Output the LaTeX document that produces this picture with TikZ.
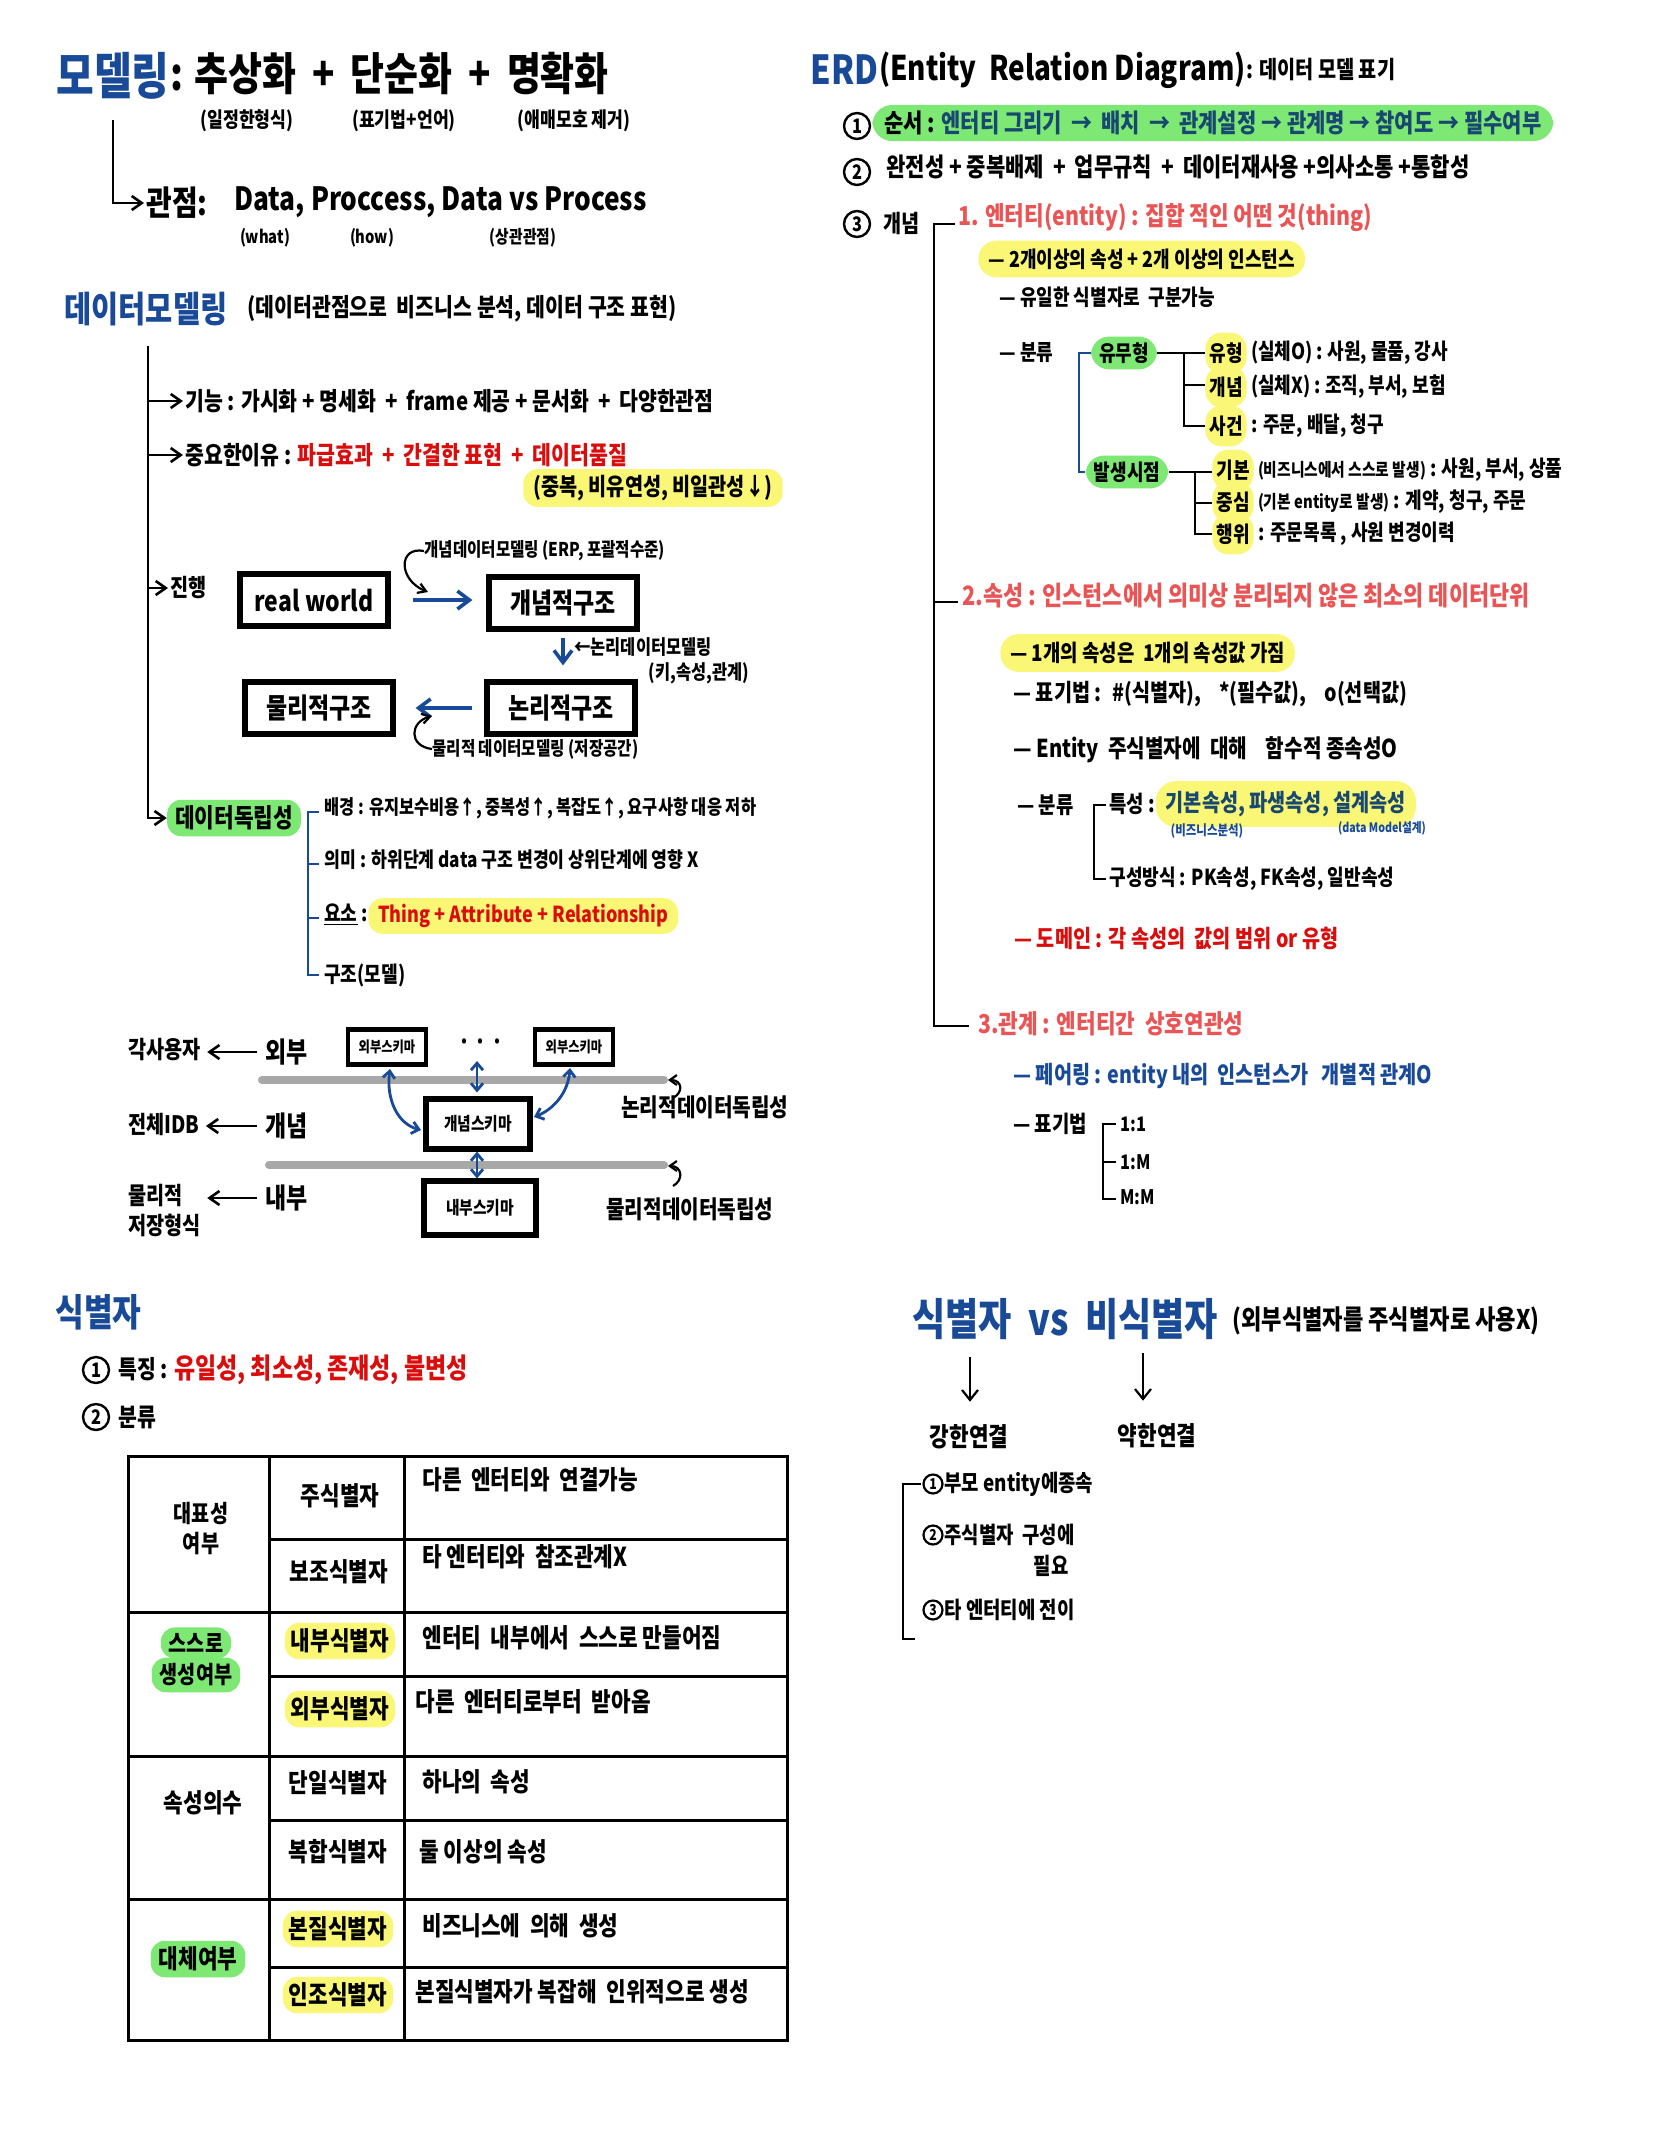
\documentclass[tikz,border=0pt]{standalone}
\usepackage{fontspec}
\setmainfont{Noto Sans CJK KR}[FakeStretch=0.82]
\usetikzlibrary{arrows.meta}
\definecolor{hblue}{RGB}{24,74,152}
\definecolor{salmon}{RGB}{234,84,84}
\definecolor{hred}{RGB}{218,12,12}
\definecolor{hlyel}{RGB}{250,247,118}
\definecolor{hlgrn}{RGB}{126,232,116}
\definecolor{dteal}{RGB}{24,72,112}
\definecolor{lgray}{RGB}{168,168,168}
\newcommand\fsz[1]{\fontsize{#1}{\fpeval{1.25*#1}}\selectfont\bfseries}
\begin{document}
\begin{tikzpicture}[x=0.5pt,y=-0.5pt,
  txt/.style={anchor=west, inner sep=0pt},
  ln/.style={line width=1.3pt, black},
  arr/.style={ln, -{Straight Barb[length=5pt,width=7pt]}},
  bln/.style={line width=1.4pt, hblue},
  barr/.style={line width=1.8pt, hblue, -{Straight Barb[length=6pt,width=9pt]}},
  bdarr/.style={line width=1.4pt, hblue, {Straight Barb[length=3.5pt,width=6pt]}-{Straight Barb[length=3.5pt,width=6pt]}},
  bx/.style={draw, line width=2.6pt, minimum width=74pt, minimum height=26pt, inner sep=2pt, font=\fsz{14}},
  sbx/.style={draw, line width=2.2pt, inner sep=2pt},
  hly/.style={fill=hlyel, rounded corners=7pt, inner xsep=5pt, inner ysep=3pt},
  hlg/.style={fill=hlgrn, rounded corners=7pt, inner xsep=4pt, inner ysep=3pt},
  circ/.style={draw, circle, line width=1.2pt, inner sep=0pt, minimum size=13pt, font=\fsz{10}},
  circs/.style={draw, circle, line width=1.1pt, inner sep=0pt, minimum size=9.5pt, font=\fsz{7.5}},
  gl/.style={line width=4pt, lgray, line cap=round},
  tbl/.style={line width=1.5pt}]
\fill[white] (0,0) rectangle (1668,2154);
\useasboundingbox (0,0) rectangle (1668,2154);

% ---------------- header: modeling
\node[txt, font=\fsz{25}, text=hblue] (model) at (56,76) {모델링};
\node[txt, font=\fsz{22.5}] (mdef) at (170,74) {: 추상화 \,+\, 단순화 \,+\, 명확화};
\node[font=\fsz{10.5}] (n1) at (247,121) {(일정한형식)};
\node[font=\fsz{10.5}] (n2) at (404,121) {(표기법+언어)};
\node[font=\fsz{10.5}] (n3) at (574,121) {(애매모호 제거)};
\node[txt, font=\fsz{17}] (gwan) at (146,203) {관점:};
\node[txt, font=\fsz{16}] (dp) at (234,202) {Data, Proccess, Data vs Process};
\node[font=\fsz{9}] (w1) at (265,238) {(what)};
\node[font=\fsz{9}] (w2) at (372,238) {(how)};
\node[font=\fsz{9}] (w3) at (523,238) {(상관관점)};
\draw[arr, shorten <=10pt, shorten >=1pt] (model.south) |- (gwan.west);

% ---------------- data modeling
\node[txt, font=\fsz{18}, text=hblue] (dm) at (64,309) {데이터모델링};
\node[txt, font=\fsz{12.5}] (dmd) at (247,309) {(데이터관점으로 \ 비즈니스 분석, 데이터 구조 표현)};
\coordinate (v0) at (148,346);
\coordinate (v1) at (148,818);
\coordinate (b1) at (148,401);
\coordinate (b2) at (148,455);
\coordinate (b3) at (148,588);
\node[txt, font=\fsz{12.5}] (func) at (185,401) {기능 : 가시화 + 명세화 \,+\, frame 제공 + 문서화 \,+\, 다양한관점};
\node[txt, font=\fsz{12.5}] (imp) at (185,455) {중요한이유 : \textcolor{hred}{파급효과 \,+\, 간결한 표현 \,+\, 데이터품질}};
\node[hly, font=\fsz{12}] (impn) at (653,488) {(중복, 비유연성, 비일관성↓)};
\node[txt, font=\fsz{12}] (prog) at (170,588) {진행};
\node[hlg, font=\fsz{13}] (indep) at (234,818) {데이터독립성};
\draw[arr] (v0) -- (v1) -- (indep.west);
\draw[arr, shorten >=1pt] (b1) -- (func.west);
\draw[arr, shorten >=1pt] (b2) -- (imp.west);
\draw[arr, shorten >=1pt] (b3) -- (prog.west);

% progress boxes
\node[bx] (rw) at (314,600) {real world};
\node[bx] (cs) at (563,603) {개념적구조};
\node[bx] (ls) at (561,708) {논리적구조};
\node[bx] (ps) at (319,708) {물리적구조};
\draw[barr, shorten <=11pt, shorten >=7pt] (rw.east) -- (rw.east -| cs.west);
\draw[barr, shorten <=3pt, shorten >=7pt] (cs.south) -- (cs.south |- ls.north);
\draw[barr, shorten <=6pt, shorten >=10pt] (ls.west) -- (ls.west -| ps.east);
\node[txt, font=\fsz{9.5}] (a1) at (424,551) {개념데이터모델링 (ERP, 포괄적수준)};
\coordinate (a1e) at (428,592);
\draw[line width=1.1pt, -{Straight Barb[length=4pt,width=5pt]}] (a1.west) .. controls (398,546) and (398,580) .. (a1e);
\node[txt, font=\fsz{10}] (a2) at (574,647) {←논리데이터모델링};
\node[font=\fsz{10}] (a3) at (699,673) {(키,속성,관계)};
\node[txt, font=\fsz{9.5}] (a4) at (432,749) {물리적 데이터모델링 (저장공간)};
\coordinate (a4e) at (432,716);
\draw[line width=1.1pt, -{Straight Barb[length=4pt,width=5pt]}] (a4.west) .. controls (408,746) and (410,722) .. (a4e);

% data independence
\node[txt, font=\fsz{10}] (bg) at (324,808) {배경 : 유지보수비용↑, 중복성↑, 복잡도↑, 요구사항 대응 저하};
\node[txt, font=\fsz{10.5}] (mean) at (324,860) {의미 : 하위단계 data 구조 변경이 상위단계에 영향 X};
\node[txt, font=\fsz{11}] (elem) at (324,915) {\underline{요소} :};
\node[hly, anchor=west, font=\fsz{11}, text=hred] (elemv) at (368,916) {Thing + Attribute + Relationship};
\node[txt, font=\fsz{11}] (struct) at (324,975) {구조(모델)};
\draw[bln] (319,812) -- (308,812) -- (308,975) -- (319,975);
\draw[bln] (308,864) -- (319,864);
\draw[bln] (308,918) -- (319,918);

% ---------------- schema
\node[txt, font=\fsz{12}] (u1) at (128,1050) {각사용자};
\node[txt, font=\fsz{14}] (ext) at (265,1052) {외부};
\node[txt, font=\fsz{12}] (u2) at (128,1124) {전체IDB};
\node[txt, font=\fsz{14}] (con) at (265,1126) {개념};
\node[txt, font=\fsz{12}, align=left] (u3) at (128,1211) {물리적\\저장형식};
\node[txt, font=\fsz{14}] (int) at (265,1198) {내부};
\draw[arr, shorten <=4pt, shorten >=3pt] (ext.west) -- (ext.west -| u1.east);
\draw[arr, shorten <=4pt, shorten >=3pt] (con.west) -- (con.west -| u2.east);
\draw[arr, shorten <=4pt, shorten >=3pt] (int.west) -- (int.west -| u3.east);
\node[sbx, font=\fsz{7.5}, minimum width=39pt, minimum height=17.5pt] (es1) at (387,1047) {외부스키마};
\node[font=\fsz{12}] (dots) at (481,1045) {· · ·};
\node[sbx, font=\fsz{7.5}, minimum width=39pt, minimum height=17.5pt] (es2) at (574,1047) {외부스키마};
\coordinate (g1a) at (262,1080); \coordinate (g1b) at (664,1080);
\coordinate (g2a) at (269,1165); \coordinate (g2b) at (664,1165);
\draw[gl] (g1a) -- (g1b);
\draw[gl] (g2a) -- (g2b);
\node[sbx, line width=2.6pt, font=\fsz{9}, minimum width=52pt, minimum height=25pt] (cs2) at (478,1124) {개념스키마};
\node[sbx, line width=2.6pt, font=\fsz{9}, minimum width=56pt, minimum height=27pt] (is) at (480,1208) {내부스키마};
\coordinate (dd) at (477,1061);
\draw[bdarr, shorten >=2pt] (dd) -- (dd |- cs2.north);
\draw[bdarr] (cs2.south -| dd) -- (is.north -| dd);
\coordinate (c1s) at (390,1069);
\coordinate (c1e) at (421,1130);
\coordinate (c2s) at (570,1068);
\coordinate (c2e) at (534,1117);
\draw[bdarr] (c1s) .. controls (386,1100) and (398,1124) .. (c1e);
\draw[bdarr] (c2s) .. controls (568,1094) and (552,1110) .. (c2e);
\node[txt, font=\fsz{12.3}] (ldi) at (621,1107) {논리적데이터독립성};
\node[txt, font=\fsz{12.3}] (pdi) at (606,1209) {물리적데이터독립성};
\coordinate (h1s) at (673,1098); \coordinate (h1e) at (668,1080);
\coordinate (h2s) at (673,1186); \coordinate (h2e) at (668,1166);
\draw[line width=1.1pt, -{Straight Barb[length=3.5pt,width=5pt]}] (h1s) .. controls (684,1092) and (682,1080) .. (h1e);
\draw[line width=1.1pt, -{Straight Barb[length=3.5pt,width=5pt]}] (h2s) .. controls (684,1180) and (682,1166) .. (h2e);

% ---------------- identifier
\node[txt, font=\fsz{19}, text=hblue] (idt) at (55,1312) {식별자};
\node[circ] (c1) at (96,1370) {1};
\node[txt, font=\fsz{12.5}] (feat) at (118,1370) {특징 : \textcolor{hred}{\fsz{14}유일성, 최소성, 존재성, 불변성}};
\node[circ] (c2) at (96,1417) {2};
\node[txt, font=\fsz{12.5}] (cls) at (118,1417) {분류};

% table
\draw[tbl] (128,1456) rectangle (787,2040);
\draw[tbl] (269,1456) -- (269,2040);
\draw[tbl] (404,1456) -- (404,2040);
\foreach \yy in {1612,1756,1899} \draw[tbl] (128,\yy) -- (787,\yy);
\foreach \yy in {1539,1676,1820,1967} \draw[tbl] (269,\yy) -- (787,\yy);
\node[align=center, font=\fsz{12}] (r1) at (201,1529) {대표성\\여부};
\node[font=\fsz{13}] (k1) at (340,1496) {주식별자};
\node[txt, font=\fsz{13}] (d1) at (422,1480) {다른 \ 엔터티와 \ 연결가능};
\node[font=\fsz{13}] (k2) at (339,1572) {보조식별자};
\node[txt, font=\fsz{13}] (d2) at (422,1557) {타 엔터티와 \ 참조관계X};
\node[hlg, font=\fsz{12}] (r2a) at (196,1643) {스스로};
\node[hlg, font=\fsz{12}] (r2b) at (196,1675) {생성여부};
\node[hly, font=\fsz{13}, inner xsep=3pt] (k3) at (340,1641) {내부식별자};
\node[txt, font=\fsz{13}] (d3) at (422,1638) {엔터티 \ 내부에서 \ 스스로 만들어짐};
\node[hly, font=\fsz{13}, inner xsep=3pt] (k4) at (340,1709) {외부식별자};
\node[txt, font=\fsz{13}] (d4) at (415,1702) {다른 \ 엔터티로부터 \ 받아옴};
\node[font=\fsz{13}] (r3) at (203,1803) {속성의수};
\node[font=\fsz{13}] (k5) at (338,1783) {단일식별자};
\node[txt, font=\fsz{13}] (d5) at (422,1782) {하나의 \ 속성};
\node[font=\fsz{13}] (k6) at (338,1852) {복합식별자};
\node[txt, font=\fsz{13}] (d6) at (419,1852) {둘 이상의 속성};
\node[hlg, font=\fsz{13}] (r4) at (198,1959) {대체여부};
\node[hly, font=\fsz{13}, inner xsep=3pt] (k7) at (338,1929) {본질식별자};
\node[txt, font=\fsz{13}] (d7) at (422,1926) {비즈니스에 \ 의해 \ 생성};
\node[hly, font=\fsz{13}, inner xsep=3pt] (k8) at (338,1995) {인조식별자};
\node[txt, font=\fsz{13}] (d8) at (415,1992) {본질식별자가 복잡해 \ 인위적으로 생성};

% ---------------- ERD
\node[txt, font=\fsz{20}, text=hblue] (erd) at (810,70) {ERD};
\node[txt, font=\fsz{17}] (erdf) at (erd.east) {(Entity\ \ Relation Diagram)};
\node[txt, font=\fsz{12}] (erdd) at (erdf.east) {: 데이터 모델 표기};
\node[hlg, anchor=west, font=\fsz{12.8}, inner xsep=6pt, rounded corners=10pt] (o1) at (872,123) {순서 : \textcolor{dteal}{엔터티 그리기 \,→\, 배치 \,→\, 관계설정 → 관계명 → 참여도 → 필수여부}};
\node[circ] (e1c) at (857,126) {1};
\node[circ] (e2c) at (857,172) {2};
\node[txt, font=\fsz{12.8}] (o2) at (886,167) {완전성 + 중복배제 \,+\, 업무규칙 \,+\, 데이터재사용 +의사소통 +통합성};
\node[circ] (e3c) at (857,224) {3};
\node[txt, font=\fsz{12}] (o3) at (883,223) {개념};
\draw[ln] (955,224) -- (934,224) -- (934,1026) -- (969,1026);
\draw[ln] (934,602) -- (958,602);

\node[txt, font=\fsz{13}, text=salmon] (ent) at (958,218) {1. 엔터티(entity) : 집합 적인 어떤 것(thing)};
\node[hly, anchor=west, font=\fsz{11}, rounded corners=9pt, inner ysep=4pt] (ent1) at (978,259) {— 2개이상의 속성 + 2개 이상의 인스턴스};
\node[txt, font=\fsz{11}] (ent2) at (999,297) {— 유일한 식별자로 \ 구분가능};
\node[txt, font=\fsz{11}] (ent3) at (999,353) {— 분류};
\node[hlg, font=\fsz{11}, rounded corners=9pt] (ymh) at (1124,353) {유무형};
\node[hlg, font=\fsz{11}, rounded corners=9pt] (bss) at (1127,472) {발생시점};
\draw[bln] (ymh.west) -- (1079,353) -- (1079,472) -- (bss.west);
\draw[ln] (ymh.east) -- (1184,353) -- (1205,353);
\draw[ln] (1184,353) -- (1184,426) -- (1205,426);
\draw[ln] (1184,385) -- (1205,385);
\node[hly, anchor=west, font=\fsz{11}, inner xsep=2pt, inner ysep=5pt, rounded corners=8pt] (t1) at (1205,353) {유형};
\node[txt, font=\fsz{11}] (t1r) at (t1.east) {\,(실체O) : 사원, 물품, 강사};
\node[hly, anchor=west, font=\fsz{11}, inner xsep=2pt, inner ysep=5pt, rounded corners=8pt] (t2) at (1205,387) {개념};
\node[txt, font=\fsz{11}] (t2r) at (t2.east) {\,(실체X) : 조직, 부서, 보험};
\node[hly, anchor=west, font=\fsz{11}, inner xsep=2pt, inner ysep=5pt, rounded corners=8pt] (t3) at (1205,426) {사건};
\node[txt, font=\fsz{11}] (t3r) at (t3.east) {\ : 주문, 배달, 청구};
\draw[ln] (bss.east) -- (1195,472) -- (1212,472);
\draw[ln] (1195,472) -- (1195,534) -- (1212,534);
\draw[ln] (1195,503) -- (1212,503);
\node[hly, anchor=west, font=\fsz{11}, inner xsep=2pt, inner ysep=5pt, rounded corners=8pt] (t4) at (1212,470) {기본};
\node[txt, font=\fsz{11}] (t4r) at (t4.east) {\,{\fsz{9}(비즈니스에서 스스로 발생)} : 사원, 부서, 상품};
\node[hly, anchor=west, font=\fsz{11}, inner xsep=2pt, inner ysep=5pt, rounded corners=8pt] (t5) at (1212,502) {중심};
\node[txt, font=\fsz{11}] (t5r) at (t5.east) {\,{\fsz{9}(기본 entity로 발생)} : 계약, 청구, 주문};
\node[hly, anchor=west, font=\fsz{11}, inner xsep=2pt, inner ysep=5pt, rounded corners=8pt] (t6) at (1212,534) {행위};
\node[txt, font=\fsz{11}] (t6r) at (t6.east) {\ : 주문목록 , 사원 변경이력};

% attribute
\node[txt, font=\fsz{13.3}, text=salmon] (att) at (962,596) {2.속성 : 인스턴스에서 의미상 분리되지 않은 최소의 데이터단위};
\node[hly, anchor=west, font=\fsz{11.5}, rounded corners=9pt, inner ysep=4pt] (att1) at (1000,653) {— 1개의 속성은 \ 1개의 속성값 가짐};
\node[txt, font=\fsz{12}] (att2) at (1013,694) {— 표기법 : \ \#(식별자), \ \ \ *(필수값), \ \ \ o(선택값)};
\node[txt, font=\fsz{12.3}] (att3) at (1013,750) {— Entity \ 주식별자에 \ 대해 \ \ \ 함수적 종속성O};
\node[txt, font=\fsz{11.5}] (att4) at (1017,805) {— 분류};
\draw[ln] (1106,805) -- (1094,805) -- (1094,879) -- (1106,879);
\node[txt, font=\fsz{11.5}] (ts) at (1109,804) {특성 :};
\node[hly, anchor=west, font=\fsz{12}, text=dteal, rounded corners=10pt, inner ysep=5pt] (tsv) at (ts.east) {기본속성, 파생속성, 설계속성};
\node[font=\fsz{7}, text=hblue] (tsn1) at (1207,831) {(비즈니스분석)};
\node[font=\fsz{6.5}, text=hblue] (tsn2) at (1382,828) {(data Model설계)};
\node[txt, font=\fsz{11}] (gs) at (1109,879) {구성방식 : PK속성, FK속성, 일반속성};
\node[txt, font=\fsz{12}, text=hred] (dom) at (1014,938) {— 도메인 : 각 속성의 \ 값의 범위 or 유형};

% relation
\node[txt, font=\fsz{13}, text=salmon] (rel) at (978,1024) {3.관계 : 엔터티간 \ 상호연관성};
\node[txt, font=\fsz{12}, text=hblue] (pr) at (1013,1076) {— 페어링 : entity 내의 \ 인스턴스가 \ \ 개별적 관계O};
\node[txt, font=\fsz{11.5}] (nt) at (1013,1124) {— 표기법};
\draw[ln] (1116,1124) -- (1103,1124) -- (1103,1199) -- (1116,1199);
\draw[ln] (1103,1162) -- (1116,1162);
\node[txt, font=\fsz{10}] (m1) at (1120,1124) {1:1};
\node[txt, font=\fsz{10}] (m2) at (1120,1162) {1:M};
\node[txt, font=\fsz{10}] (m3) at (1120,1197) {M:M};

% ---------------- identifier vs non-identifier
\node[txt, font=\fsz{22}, text=hblue] (vs) at (912,1319) {식별자 \ vs \ 비식별자};
\node[txt, font=\fsz{13.5}] (vsn) at (1232,1321) {(외부식별자를 주식별자로 사용X)};
\node[font=\fsz{13}] (strong) at (969,1437) {강한연결};
\node[font=\fsz{13}] (weak) at (1157,1436) {약한연결};
\coordinate (sa) at (970,1357);
\coordinate (wa) at (1143,1353);
\draw[ln, line width=1.1pt, -{Straight Barb[length=5pt,width=8pt]}, shorten >=8pt] (sa) -- (sa |- strong.north);
\draw[ln, line width=1.1pt, -{Straight Barb[length=5pt,width=8pt]}, shorten >=8pt] (wa) -- (wa |- weak.north);
\draw[ln] (921,1484) -- (903,1484) -- (903,1639) -- (915,1639);
\node[circs] (s1) at (933,1484) {1};
\node[txt, font=\fsz{11.5}] (s1t) at (944,1484) {부모 entity에종속};
\node[circs] (s2) at (933,1535) {2};
\node[txt, font=\fsz{11.5}] (s2t) at (944,1535) {주식별자 \ 구성에};
\node[font=\fsz{11.5}] (s2u) at (1051,1566) {필요};
\node[circs] (s3) at (933,1610) {3};
\node[txt, font=\fsz{11.5}] (s3t) at (944,1610) {타 엔터티에 전이};
\end{tikzpicture}
\end{document}
